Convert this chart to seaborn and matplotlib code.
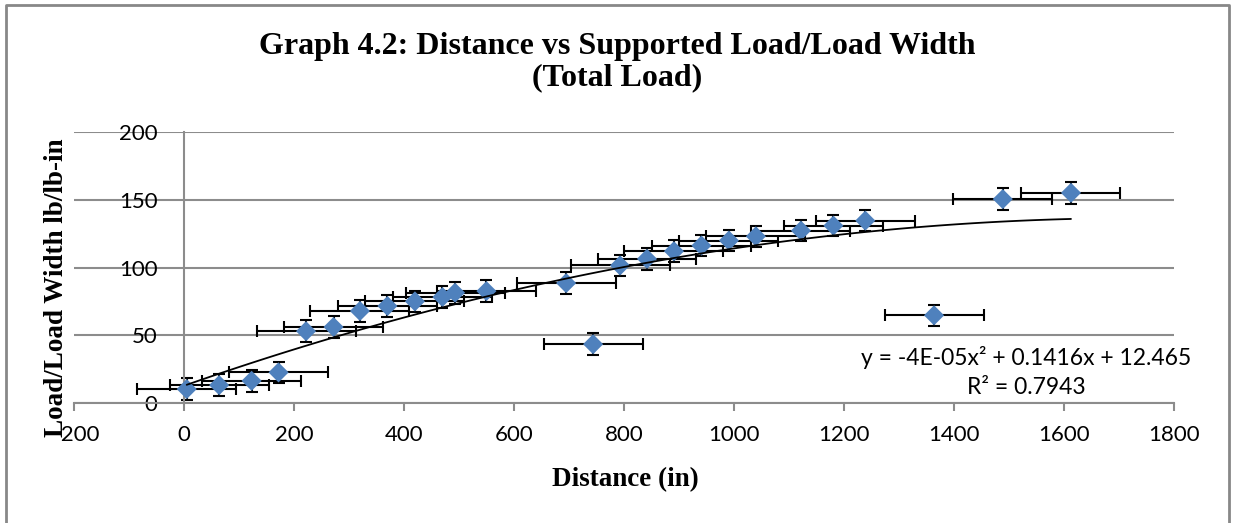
import numpy as np
import pandas as pd
import matplotlib
matplotlib.use("Agg")
import matplotlib.pyplot as plt
from matplotlib.lines import Line2D
import seaborn as sns

# data
distance = [5, 64, 123, 172, 222, 272, 320, 370, 420, 470, 493, 550, 695,
            744, 793, 842, 891, 941, 991, 1040, 1122, 1181, 1239, 1364, 1489, 1613]
load_per_width = [10.3, 13.2, 16.4, 22.6, 53.0, 56.1, 67.9, 71.6, 75.0, 78.2, 81.4, 82.6, 88.5,
                  43.4, 101.5, 106.4, 112.0, 116.2, 119.9, 123.0, 127.2, 130.9, 134.6, 64.7, 150.5, 155.1]
DIST_ERR = 90
LOAD_ERR = 8
x_ticks = [-200, 0, 200, 400, 600, 800, 1000, 1200, 1400, 1600, 1800]
y_ticks = [0, 50, 100, 150, 200]

TITLE = "Graph 4.2: Distance vs Supported Load/Load Width\n(Total Load)"
EQUATION = "y = -4E-05x\u00b2 + 0.1416x + 12.465\nR\u00b2 = 0.7943"

BLUE = "#4F81BD"
GRID = "#8c8c8c"
SERIF = "Liberation Serif"
SANS = "Lato"


def main():
    df = pd.DataFrame({"distance": distance, "load": load_per_width})

    sns.set_style("white", {"text.color": "black", "xtick.color": "black",
                            "ytick.color": "black", "axes.labelcolor": "black"})
    plt.rcParams["font.family"] = [SANS, "DejaVu Sans"]

    fig = plt.figure(figsize=(12.33, 5.23), dpi=100)
    ax = fig.add_axes([0.060, 0.2294, 0.892, 0.5182])

    # error bars behind the markers
    ax.errorbar(df["distance"], df["load"], xerr=DIST_ERR, yerr=LOAD_ERR, fmt="none",
                ecolor="black", elinewidth=1.5, capsize=4.5, capthick=1.5, zorder=2)
    sns.scatterplot(data=df, x="distance", y="load", marker="D", s=105, color=BLUE,
                    edgecolor="none", linewidth=0, ax=ax, zorder=3)
    # 2nd order polynomial trendline
    sns.regplot(data=df, x="distance", y="load", order=2, ci=None, scatter=False,
                truncate=True, ax=ax, line_kws={"color": "black", "lw": 1.3, "zorder": 4})

    ax.set_xlim(-200, 1800)
    ax.set_ylim(0, 200)
    ax.set_xticks(x_ticks)
    ax.set_yticks(y_ticks)
    ax.set_xlabel("")
    ax.set_ylabel("")

    ax.yaxis.grid(True, color=GRID, lw=1.5)
    ax.xaxis.grid(False)
    for s in ["top", "right"]:
        ax.spines[s].set_visible(False)
    ax.spines["left"].set_position(("data", 0))
    ax.spines["left"].set_color(GRID)
    ax.spines["left"].set_linewidth(1.5)
    ax.spines["bottom"].set_color(GRID)
    ax.spines["bottom"].set_linewidth(1.5)

    ax.tick_params(axis="x", direction="out", length=6, width=1.5, color=GRID,
                   labelsize=16, labelcolor="black", pad=10, bottom=True)
    ax.tick_params(axis="y", length=0, labelsize=16, labelcolor="black", pad=19, left=True)

    fig.text(0.5004, 0.881, TITLE, ha="center", va="center", family=SERIF,
             fontweight="bold", fontsize=23, linespacing=1.1, color="black")
    fig.text(0.507, 0.083, "Distance (in)", ha="center", va="center", family=SERIF,
             fontweight="bold", fontsize=19.5, color="black")
    fig.text(0.046, 0.449, "Load/Load Width lb/lb-in", ha="center", va="center",
             rotation=90, family=SERIF, fontweight="bold", fontsize=19.5, color="black")
    ax.text(1531, 22.8, EQUATION, ha="center", va="center", fontsize=16.5,
            multialignment="center", linespacing=1.45, color="black")

    # chart area outline (left, top, right only)
    frame = Line2D([0.005, 0.005, 0.9968, 0.9968], [-0.01, 0.9895, 0.9895, -0.01],
                   transform=fig.transFigure, color="#888888", lw=2)
    fig.add_artist(frame)

    fig.savefig("out.png", dpi=100)
    plt.close(fig)


if __name__ == "__main__":
    main()
